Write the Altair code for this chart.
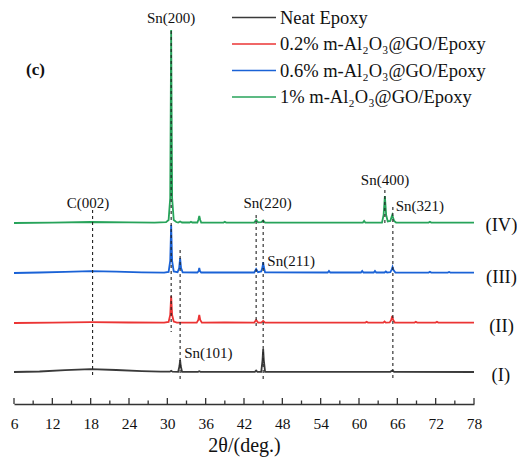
import altair as alt
import pandas as pd

# ---------------- data ----------------
major_ticks = [6, 12, 18, 24, 30, 36, 42, 48, 54, 60, 66, 72, 78]
minor_ticks = [9, 15, 21, 27, 33, 39, 45, 51, 57, 63, 69, 75]

series_names = ["Neat Epoxy", "0.2% m-Al₂O₃@GO/Epoxy",
                "0.6% m-Al₂O₃@GO/Epoxy", "1% m-Al₂O₃@GO/Epoxy"]
series_colors = ["#3a3a3a", "#eb3434", "#1a62d6", "#27a35a"]
series_offsets = [32, 81, 131, 181]          # vertical stacking offsets (a.u.)
series_tags = ["(I)", "(II)", "(III)", "(IV)"]
tag_y = [29, 78, 127, 179]

# (2theta, intensity above own baseline)
neat = [(6, 0), (10, 0.5), (14, 1.8), (18, 2.8), (22, 2.0), (26, 0.8), (29, 0.3),
        (30.4, 0.3), (30.6, 1.2), (30.8, 0.3), (31.7, 0.2), (31.9, 6), (32.0, 12),
        (32.1, 6), (32.3, 0.2), (34.8, 0.2), (35.0, 0.8), (35.2, 0.2), (43.7, 0.2),
        (43.9, 1.5), (44.1, 0.2), (44.7, 0.2), (44.9, 12), (45.0, 23), (45.1, 12),
        (45.3, 0.2), (64.9, 0.2), (65.2, 1.5), (65.5, 0.2), (78, 0)]

red = [(6, 0), (12, 0.3), (18, 0.8), (24, 0.5), (29.5, 0.3), (30.2, 1), (30.45, 8),
       (30.6, 27), (30.75, 8), (31.0, 1.5), (31.5, 0.4), (34.6, 0.4), (34.85, 3),
       (35.0, 8), (35.15, 3), (35.4, 0.4), (39, 0.5), (43.6, 0.4), (43.9, 3),
       (44.2, 0.4), (44.7, 0.4), (45.0, 2), (45.3, 0.4), (55, 0.4), (61, 0.4),
       (61.2, 1.2), (61.4, 0.4), (63.8, 0.4), (64.0, 1.5), (64.2, 0.4), (64.8, 0.6),
       (65.05, 3), (65.2, 7), (65.35, 3), (65.6, 0.5), (68.7, 0.4), (68.9, 1.2),
       (69.1, 0.4), (72.0, 0.4), (72.2, 1.2), (72.4, 0.4), (78, 0.3)]

blue = [(6, 0), (10, 0.5), (14, 1.2), (18, 1.8), (22, 1.3), (26, 0.6), (29.5, 0.3),
        (30.2, 1), (30.45, 12), (30.6, 48), (30.75, 12), (31.0, 1.5), (31.6, 0.8),
        (31.85, 5), (32.0, 15), (32.15, 5), (32.4, 0.6), (34.7, 0.5), (34.9, 2),
        (35.0, 5), (35.1, 2), (35.3, 0.5), (43.6, 0.5), (43.9, 4), (44.2, 0.8),
        (44.7, 1.5), (44.9, 6), (45.0, 11), (45.1, 6), (45.3, 0.6), (55.1, 0.5),
        (55.3, 2), (55.5, 0.5), (60.3, 0.5), (60.5, 2), (60.7, 0.5), (62.3, 0.5),
        (62.5, 2), (62.7, 0.5), (64.0, 0.5), (64.2, 1.5), (64.4, 0.5), (64.9, 0.8),
        (65.1, 3), (65.25, 6), (65.4, 3), (65.7, 0.5), (70.9, 0.4), (71.1, 1.2),
        (71.3, 0.4), (73.9, 0.4), (74.1, 1), (74.3, 0.4), (78, 0.3)]

green = [(6, 0), (12, 0.4), (18, 1.0), (24, 0.6), (28, 0.3), (29.8, 0.8), (30.2, 3),
         (30.45, 25), (30.6, 193), (30.75, 25), (31.0, 3), (31.4, 1), (31.7, 0.5),
         (32.0, 1.5), (32.3, 0.5), (33.5, 0.5), (33.7, 1.2), (33.9, 0.5), (34.7, 0.5),
         (34.85, 3), (35.0, 7), (35.15, 3), (35.3, 0.5), (38.8, 0.4), (39.0, 1.2),
         (39.2, 0.4), (43.6, 0.4), (43.9, 3), (44.2, 0.6), (44.7, 0.8), (45.0, 2.5),
         (45.3, 0.5), (60.6, 0.4), (60.8, 2), (61.0, 0.4), (63.6, 0.4), (63.85, 8),
         (64.05, 27), (64.25, 8), (64.5, 1.5), (64.9, 2), (65.2, 8), (65.5, 2),
         (65.8, 0.5), (70.9, 0.4), (71.1, 1.2), (71.3, 0.4), (78, 0.3)]

# reference lines: (2theta, top, bottom)
ref_lines = [(18.3, 194, 26), (30.6, 373, 72), (32.0, 154, 24), (43.9, 189, 77),
             (45.0, 184, 24), (64.05, 214, 179), (65.3, 197, 24)]

# peak labels: (text, 2theta, y)
labels_center = [("Sn(200)", 30.6, 386), ("C(002)", 17.6, 201),
                 ("Sn(220)", 45.7, 201), ("Sn(400)", 64.07, 224)]
labels_left = [("Sn(101)", 32.65, 51), ("Sn(211)", 45.65, 143), ("Sn(321)", 65.74, 198)]

# ---------------- build tables ----------------
rows = []
for name, off, pts in zip(series_names, series_offsets, [neat, red, blue, green]):
    for i, (tt, inten) in enumerate(pts):
        rows.append({"series": name, "x": tt, "y": off + inten, "i": i})
df = pd.DataFrame(rows)

FONT = "Liberation Serif"
H = 394
xscale = alt.Scale(domain=[6, 78], nice=False, zero=False)
yscale = alt.Scale(domain=[0, H], nice=False, zero=False)
XAXIS = alt.Axis(values=major_ticks, tickSize=0, format="d", grid=False,
                 labelOverlap=False, labelFlush=False,
                 labelFont=FONT, labelFontSize=15.5, labelColor="#111",
                 labelPadding=12, domainColor="#333", domainWidth=1.5,
                 title="2θ/(deg.)", titleFont=FONT, titleFontSize=20,
                 titleFontWeight="normal", titleColor="#111", titlePadding=4)


def X(field):
    return alt.X(field, scale=xscale, axis=XAXIS)


def Y(field):
    return alt.Y(field, scale=yscale, axis=None)


lines = alt.Chart(df).mark_line(strokeWidth=1.8, clip=False).encode(
    x=X("x:Q"),
    y=Y("y:Q"),
    color=alt.Color("series:N", scale=alt.Scale(domain=series_names, range=series_colors),
                    legend=None),
    detail="series:N",
    order="i:Q",
)

ref_df = pd.DataFrame(ref_lines, columns=["x", "top", "bottom"])
rules = alt.Chart(ref_df).mark_rule(strokeDash=[3, 3], color="#222", strokeWidth=1.1).encode(
    x=X("x:Q"), y=Y("top:Q"), y2="bottom:Q")

tick_major = alt.Chart(pd.DataFrame({"x": major_ticks})).mark_rule(
    color="#333", strokeWidth=1.3).encode(
    x=X("x:Q"), y=alt.value(H), y2=alt.value(H - 6))
tick_minor = alt.Chart(pd.DataFrame({"x": minor_ticks})).mark_rule(
    color="#333", strokeWidth=1.3).encode(
    x=X("x:Q"), y=alt.value(H), y2=alt.value(H - 3.5))

lc = pd.DataFrame(labels_center, columns=["t", "x", "y"])
ll = pd.DataFrame(labels_left, columns=["t", "x", "y"])
text_c = alt.Chart(lc).mark_text(font=FONT, fontSize=15, align="center",
                                 baseline="middle", color="#111").encode(
    x=X("x:Q"), y=Y("y:Q"), text="t:N")
text_l = alt.Chart(ll).mark_text(font=FONT, fontSize=15, align="left",
                                 baseline="middle", color="#111").encode(
    x=X("x:Q"), y=Y("y:Q"), text="t:N")

tags = pd.DataFrame({"t": series_tags, "x": [82.2, 82.3, 82.3, 82.3], "y": tag_y})
tag_text = alt.Chart(tags).mark_text(font=FONT, fontSize=18.5, align="center",
                                     baseline="middle", color="#111").encode(
    x=X("x:Q"), y=Y("y:Q"), text="t:N")

panel = alt.Chart(pd.DataFrame({"t": ["(c)"]})).mark_text(
    font=FONT, fontSize=17, fontWeight="bold", align="left", baseline="middle",
    color="#111").encode(x=alt.value(12), y=alt.value(60), text="t:N")

legend_layers = []
for k, (name, col) in enumerate(zip(series_names, series_colors)):
    yy = 7.5 + k * 26.5
    one = pd.DataFrame({"t": [name]})
    legend_layers.append(alt.Chart(one).mark_rule(color=col, strokeWidth=1.6).encode(
        x=alt.value(218), x2=alt.value(262), y=alt.value(yy)))
    legend_layers.append(alt.Chart(one).mark_text(
        font=FONT, fontSize=18.5, align="left", baseline="middle", color="#111").encode(
        x=alt.value(266), y=alt.value(yy), text="t:N"))

chart = alt.layer(lines, rules, tick_major, tick_minor, text_c, text_l, tag_text,
                  panel, *legend_layers).properties(
    width=460, height=H,
    autosize=alt.AutoSizeParams(type="none"),
    padding={"left": 6, "top": 2, "right": 43, "bottom": 56},
).configure_view(stroke=None)

chart.save("out.html", embed_options={"renderer": "svg", "actions": False})
